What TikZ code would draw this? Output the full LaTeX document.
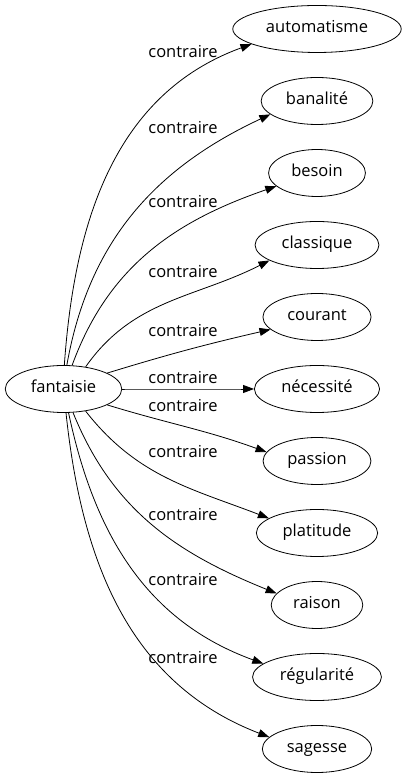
\documentclass[tikz,border=0pt]{standalone}
\usepackage{fontspec}
\setmainfont{Open Sans}
\usetikzlibrary{shapes.geometric,arrows.meta}

\begin{document}
\begin{tikzpicture}[x=1pt,y=1pt,
    every node/.style={font=\fontsize{16.5}{20}\selectfont},
    motbox/.style={draw,ellipse,line width=0.8pt,inner xsep=8.5pt,inner ysep=0pt,
      minimum height=47pt,text height=12pt,text depth=4pt},
    lien/.style={line width=0.8pt,-{Triangle[length=11pt,width=8pt]}},
    etiq/.style={inner sep=0pt}]
  \useasboundingbox (0,0) rectangle (403,779);

  \node[motbox] (fantaisie) at (63.5,390) {fantaisie};
  \foreach \nom/\texte [count=\i from 0] in {automatisme/automatisme,banalite/banalité,
      besoin/besoin,classique/classique,courant/courant,necessite/nécessité,
      passion/passion,platitude/platitude,raison/raison,regularite/régularité,sagesse/sagesse}
    \node[motbox] (\nom) at (317,{750-72*\i}) {\texte};

  % fantaisie -> contraires
  \foreach \nom/\dep/\sortie/\bord/\entree/\ly [count=\i] in {automatisme/88/86/193/200/727,
      banalite/82/80/196/205/651,besoin/70/70/198/199/577,classique/45/55/198/207/507,
      courant/20/17/195/193/448,necessite/0/0/180/180/401,passion/-20/-17/170/160/373,
      platitude/-45/-52/163/159/327,raison/-68/-68/164/158/264,
      regularite/-78/-78/166/160/199,sagesse/-84/-84/166/159/121}
  {
    \draw[lien] (fantaisie.\dep) to[out=\sortie,in=\entree] (\nom.\bord);
    \node[etiq] (l\i) at (183,\ly) {contraire};
  }
\end{tikzpicture}
\end{document}
